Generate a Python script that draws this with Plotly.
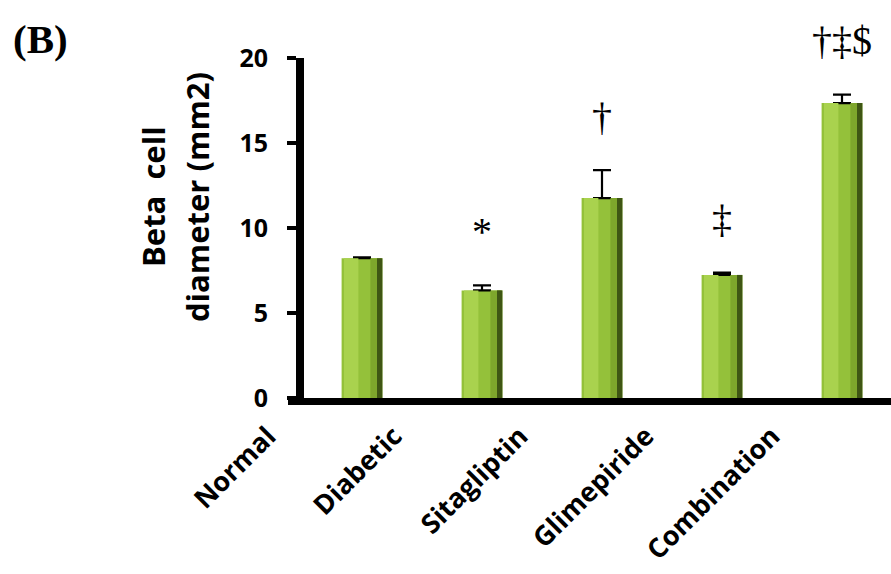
import plotly.graph_objects as go

# ---- data ----
tick_labels = ["Normal", "Diabetic", "Sitagliptin", "Glimepiride", "Combination"]
values = [8.22, 6.33, 11.76, 7.24, 17.35]
errors = [0.05, 0.30, 1.65, 0.13, 0.50]
sig_marks = ["", "*", "†", "‡", "†‡$"]
y_ticks = [0, 5, 10, 15, 20]
y_title_lines = ["Beta  cell", "diameter (mm2)"]

W, H = 891, 574
L, R, T, B = 200, 0, 58, 176
PW = W - L - R
PH = H - T - B

def px_x(p):
    return (p - L) / PW

def px_y(p):
    return 1 - (p - T) / PH

bar_idx = list(range(len(values)))
lab_idx = list(range(len(tick_labels)))

# pixel geometry of the reference
bar_left_px = 288
bar0_px, bar_step = 362, 120
lab0_px, lab_step = 268, 126

BW = 0.34
fig = go.Figure()
fig.add_trace(go.Bar(
    x=bar_idx, y=values, width=BW, offset=-BW / 2,
    marker=dict(color="#94C13A", line=dict(width=0)),
    error_y=dict(type="data", array=errors, arrayminus=[0] * len(errors),
                 symmetric=False, color="black", thickness=2.2, width=9),
    showlegend=False, hoverinfo="skip",
))
# shading layers (same values) to mimic the gradient of the reference bars
for w, off, col in [(0.12, -0.15, "#A9D24E"), (0.09, 0.07, "#7EA62C"),
                    (0.045, BW / 2 - 0.045, "#3F5614")]:
    fig.add_trace(go.Bar(
        x=bar_idx, y=values, width=w, offset=off,
        marker=dict(color=col, line=dict(width=0)),
        showlegend=False, hoverinfo="skip",
    ))
# invisible carrier for the shifted category labels
fig.add_trace(go.Scatter(
    x=lab_idx, y=[0] * len(lab_idx), mode="markers",
    marker=dict(opacity=0), xaxis="x2", yaxis="y",
    showlegend=False, hoverinfo="skip",
))

for i, (v, e, m) in enumerate(zip(values, errors, sig_marks)):
    if not m:
        continue
    fig.add_annotation(
        x=i, y=v + e, xref="x", yref="y", text=m, showarrow=False,
        yanchor="middle", yshift=54,
        font=dict(family="Liberation Serif", size=40, color="black"),
    )

fig.add_annotation(
    x=px_x(40), y=px_y(39), xref="paper", yref="paper",
    text="<b>(B)</b>", showarrow=False, xanchor="center", yanchor="middle",
    font=dict(family="Liberation Serif", size=41, color="black"),
)
for xp, line in zip([153, 197], y_title_lines):
    fig.add_annotation(
        x=px_x(xp), y=px_y(197), xref="paper", yref="paper",
        text="<b>%s</b>" % line, showarrow=False, textangle=-90,
        xanchor="center", yanchor="middle",
        font=dict(family="Open Sans", size=31, color="black"),
    )

x_lo = (bar_left_px - bar0_px) / bar_step
x_hi = (W - bar0_px) / bar_step
x2_lo = (L - lab0_px) / lab_step
x2_hi = (W - lab0_px) / lab_step

fig.update_layout(
    width=W, height=H,
    margin=dict(l=L, r=R, t=T, b=B, autoexpand=False),
    paper_bgcolor="white", plot_bgcolor="rgba(0,0,0,0)",
    barmode="overlay",
    xaxis=dict(domain=[px_x(bar_left_px), 1], range=[x_lo, x_hi], anchor="y",
               showline=True, linewidth=7, linecolor="black",
               showticklabels=False, ticks="", showgrid=False, zeroline=False),
    xaxis2=dict(domain=[0, 1], range=[x2_lo, x2_hi], anchor="y",
                tickmode="array", tickvals=lab_idx, ticktext=tick_labels,
                tickangle=-45, ticks="", showline=False, showgrid=False,
                zeroline=False, ticklabelstandoff=16,
                tickfont=dict(family="Open Sans", size=27, color="black", weight="bold")),
    yaxis=dict(anchor="free", position=px_x(300), range=[0, 20],
               tickmode="array", tickvals=y_ticks,
               showline=True, linewidth=8, linecolor="black",
               ticks="outside", ticklen=9, tickwidth=4, tickcolor="black",
               ticklabelstandoff=14, showgrid=False, zeroline=False,
               tickfont=dict(family="Open Sans", size=25, color="black", weight="bold")),
)

fig.write_html("out.html", config={"displayModeBar": False},
               post_script="document.body.style.margin='0';")
